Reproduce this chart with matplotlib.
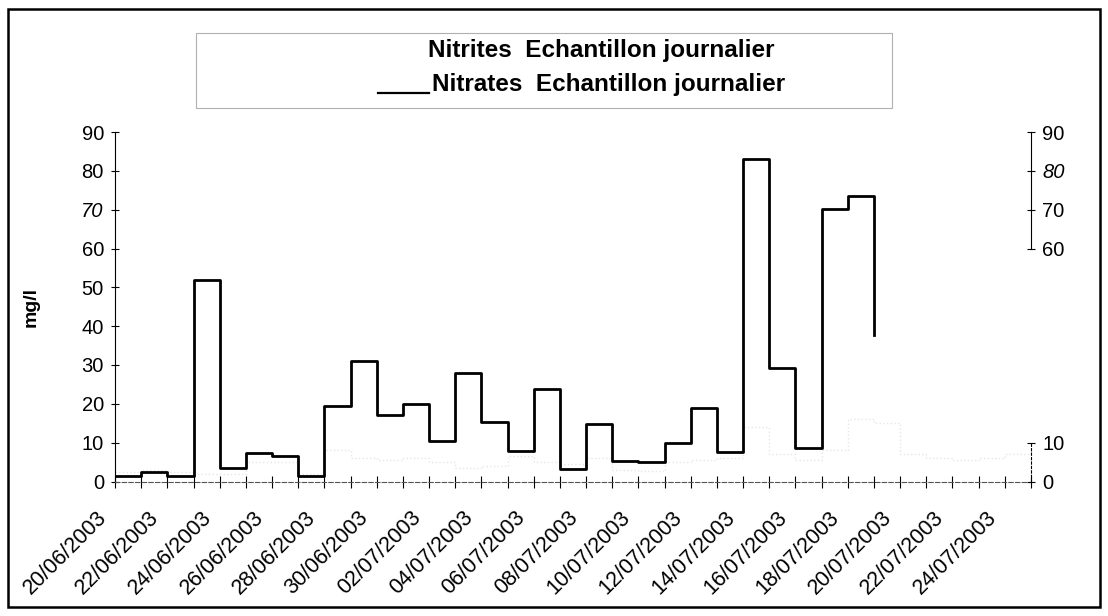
import numpy as np
import pandas as pd
import matplotlib
matplotlib.use("Agg")
from matplotlib import pyplot as plt
from matplotlib.patches import Rectangle
from matplotlib.lines import Line2D
from matplotlib.transforms import ScaledTranslation

plt.rcParams['font.family'] = ['Liberation Sans', 'DejaVu Sans']

# daily samples, 20/06/2003 -> 25/07/2003
days = pd.date_range('2003-06-20', '2003-07-25', freq='D')
date_labels = [d.strftime('%d/%m/%Y') for d in days]

# Nitrates (mg/l), one value per day, last value is where the trace stops
nitrates = [1.5, 2.5, 1.5, 52.0, 3.5, 7.3, 6.6, 1.5, 19.5, 31.0,
            17.0, 20.0, 10.5, 28.0, 15.3, 7.8, 23.7, 3.3, 14.7, 5.3,
            4.9, 10.0, 18.9, 7.5, 83.0, 29.3, 8.7, 70.1, 73.4, 37.7]
# Nitrites (mg/l), very faint in the source
nitrites = [2.5, 3.0, 2.5, 2.0, 2.0, 5.0, 5.0, 2.0, 8.0, 6.0,
            5.5, 6.0, 5.0, 3.5, 4.0, 6.5, 5.0, 4.5, 6.0, 3.0,
            2.7, 5.0, 5.5, 6.0, 14.0, 7.0, 5.5, 8.0, 16.0, 15.0,
            7.0, 6.0, 5.5, 6.0, 7.0, 7.0]

left_ticks = [0, 10, 20, 30, 40, 50, 60, 70, 80, 90]
right_ticks = [0, 10, 60, 70, 80, 90]

fig = plt.figure(figsize=(11.08, 6.16), dpi=100)
ax = fig.add_axes([115 / 1108, 1 - 481.5 / 616, (1031 - 115) / 1108, (481.5 - 132) / 616])

x_nitrates = np.arange(len(nitrates))
x_nitrites = np.arange(len(nitrites))
ax.step(x_nitrites, nitrites, where='post', color='#e6e6e6', lw=1.0, ls=':')
ax.step(x_nitrates, nitrates, where='post', color='black', lw=2.0)

ax.set_xlim(0, len(days) - 1)
ax.set_ylim(0, 90)

# y axis (left)
ax.set_yticks(left_ticks)
ax.tick_params(axis='y', direction='inout', length=6, width=0.8, labelsize=14.5, pad=5)
for lab in ax.get_yticklabels():
    if lab.get_text() == '70':
        lab.set_fontstyle('italic')
ax.set_ylabel('mg/l', fontsize=14, fontweight='bold', labelpad=30)

# x axis: tick every day, label every 2 days
major = np.arange(0, len(days) - 1, 2)
ax.set_xticks(major)
ax.set_xticklabels([date_labels[i] for i in major])
ax.set_xticks(np.arange(1, len(days), 2), minor=True)
ax.tick_params(axis='x', which='both', direction='inout', length=8, width=0.8)
ax.tick_params(axis='x', which='major', labelsize=15.5, pad=5)
shift = ScaledTranslation(-0.19, -0.13, fig.dpi_scale_trans)
for lab in ax.get_xticklabels():
    lab.set_rotation(45)
    lab.set_ha('right')
    lab.set_va('top')
    lab.set_rotation_mode('anchor')
    lab.set_transform(lab.get_transform() + shift)

for side in ['top', 'right']:
    ax.spines[side].set_visible(False)
ax.spines['bottom'].set_linestyle((0, (4, 2)))
ax.spines['bottom'].set_color('#555555')
ax.spines['left'].set_linewidth(0.8)

# right axis, only partly printed
ax2 = ax.twinx()
ax2.set_ylim(0, 90)
ax2.set_yticks(right_ticks)
ax2.tick_params(axis='y', direction='inout', length=6, width=0.8, labelsize=14.5, pad=5)
for lab in ax2.get_yticklabels():
    if lab.get_text() == '80':
        lab.set_fontstyle('italic')
for side in ['top', 'left', 'bottom']:
    ax2.spines[side].set_visible(False)
ax2.spines['right'].set_bounds(60, 90)
ax2.spines['right'].set_linewidth(0.8)
ax2.axvline(len(days) - 1, ymin=0, ymax=10 / 90, color='black', lw=0.8, ls=(0, (3, 1)), clip_on=False)

# legend box
fig.patches.append(Rectangle((196 / 1108, 1 - 108 / 616), (892 - 196) / 1108, (108 - 33) / 616,
                             transform=fig.transFigure, fill=False, ec='#b0b0b0', lw=0.8))
fig.text(428 / 1108, 1 - 51 / 616, 'Nitrites  Echantillon journalier', fontsize=17.5,
         fontweight='bold', va='center', ha='left')
fig.text(432 / 1108, 1 - 84 / 616, 'Nitrates  Echantillon journalier', fontsize=17.5,
         fontweight='bold', va='center', ha='left')
fig.lines.append(Line2D([378 / 1108, 429 / 1108], [1 - 93 / 616, 1 - 93 / 616],
                        transform=fig.transFigure, color='black', lw=1.6))

# outer frame
fig.patches.append(Rectangle((8 / 1108, 1 - 607 / 616), (1100 - 8) / 1108, (607 - 9) / 616,
                             transform=fig.transFigure, fill=False, ec='black', lw=1.8))

fig.savefig('out.png', dpi=100)
